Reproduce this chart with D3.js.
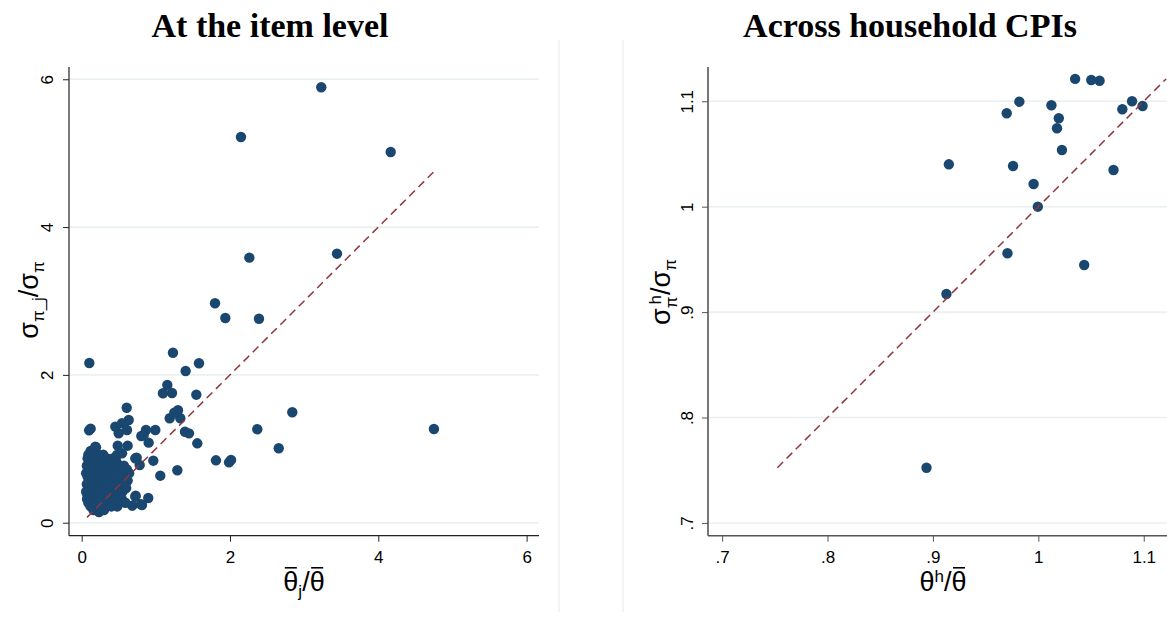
<!DOCTYPE html>
<html><head><meta charset="utf-8">
<script src="https://cdn.jsdelivr.net/npm/d3@7"></script>
<style>body{margin:0;background:#fff} svg{display:block}</style>
</head><body>
<svg id="c" width="1167" height="618"></svg>
<script>
// ---------- DATA ----------
const panelTitles = ["At the item level", "Across household CPIs"];

// Left panel: item-level points [theta_j/theta, sigma_pi_j/sigma_pi]
const itemOutliers = [
  [3.231,5.892],[2.148,5.219],[4.167,5.016],[2.261,3.586],[3.443,3.640],[1.798,2.969],[1.937,2.770],[2.391,2.760],
  [0.103,2.161],[1.231,2.300],[1.582,2.157],[1.402,2.053],[1.155,1.863],[1.096,1.751],[1.218,1.755],[1.546,1.732],
  [0.607,1.556],[2.840,1.494],[1.299,1.521],[1.187,1.413],[1.330,1.413],[1.249,1.489],[2.368,1.264],[0.121,1.272],
  [0.100,1.250],[1.393,1.231],[1.447,1.209],[0.993,1.254],[0.867,1.254],[0.804,1.173],[0.903,1.083],[1.559,1.074],
  [2.657,1.007],[4.750,1.268],[0.453,1.300],[0.544,1.345],[0.634,1.390],[0.499,1.210],[0.611,1.254],[0.836,1.187],
  [0.193,1.020],[0.135,0.961],[0.486,1.042],[0.620,1.042],[0.742,0.880],[0.782,0.781],[0.966,0.839],[1.811,0.844],
  [1.987,0.817],[2.014,0.848],[1.060,0.636],[1.290,0.709],[0.728,0.365],[0.898,0.334],[0.682,0.230],[0.800,0.249],
  [0.233,0.145],[0.723,0.871],[0.476,0.916],[0.544,0.939],[0.184,1.028],[0.813,0.240],[0.723,0.352]
];
const itemCluster = [
  [0.12,0.97],[0.18,0.97],
  [0.09,0.92],[0.15,0.92],[0.22,0.92],[0.29,0.92],
  [0.08,0.87],[0.13,0.87],[0.19,0.87],[0.26,0.87],[0.34,0.87],[0.42,0.87],
  [0.10,0.82],[0.16,0.82],[0.22,0.82],[0.30,0.82],[0.38,0.82],[0.47,0.82],
  [0.07,0.77],[0.12,0.77],[0.18,0.77],[0.25,0.77],[0.33,0.77],[0.41,0.77],[0.50,0.77],[0.57,0.77],
  [0.09,0.72],[0.14,0.72],[0.20,0.72],[0.27,0.72],[0.35,0.72],[0.44,0.72],[0.53,0.72],[0.61,0.72],
  [0.06,0.67],[0.11,0.67],[0.17,0.67],[0.23,0.67],[0.30,0.67],[0.38,0.67],[0.47,0.67],[0.56,0.67],[0.64,0.67],
  [0.08,0.62],[0.13,0.62],[0.19,0.62],[0.26,0.62],[0.33,0.62],[0.41,0.62],[0.50,0.62],[0.59,0.62],
  [0.10,0.57],[0.15,0.57],[0.21,0.57],[0.28,0.57],[0.36,0.57],[0.45,0.57],[0.54,0.57],[0.62,0.57],
  [0.07,0.52],[0.12,0.52],[0.18,0.52],[0.24,0.52],[0.31,0.52],[0.39,0.52],[0.48,0.52],[0.57,0.52],
  [0.09,0.47],[0.14,0.47],[0.20,0.47],[0.27,0.47],[0.34,0.47],[0.43,0.47],[0.52,0.47],[0.60,0.47],
  [0.06,0.42],[0.11,0.42],[0.17,0.42],[0.23,0.42],[0.30,0.42],[0.38,0.42],[0.47,0.42],[0.55,0.42],
  [0.08,0.37],[0.13,0.37],[0.19,0.37],[0.26,0.37],[0.33,0.37],[0.41,0.37],[0.50,0.37],
  [0.072,0.32],[0.11,0.32],[0.16,0.32],[0.22,0.32],[0.29,0.32],[0.37,0.32],[0.45,0.32],[0.54,0.32],
  [0.09,0.27],[0.14,0.27],[0.20,0.27],[0.27,0.27],[0.35,0.27],[0.43,0.27],[0.51,0.27],[0.59,0.27],
  [0.12,0.22],[0.18,0.22],[0.25,0.22],[0.32,0.22],[0.40,0.22],[0.48,0.22],
  [0.16,0.17],[0.23,0.17],[0.30,0.17]
];
const itemPoints = itemOutliers.concat(itemCluster);

// Right panel: household CPI points [theta_h/theta, sigma_pi_h/sigma_pi]
const hhX = [1.0349,1.0502,1.0581,0.9820,0.9700,1.0124,1.0194,1.0177,1.0224,1.0797,1.0889,
             1.0989,0.9151,0.9760,0.9955,0.9995,1.0713,0.9707,1.0435,0.9128,0.8939];
const hhY = [1.1212,1.1202,1.1195,1.0996,1.0886,1.0962,1.0839,1.0744,1.0538,1.0924,1.1000,
             1.0955,1.0402,1.0386,1.0215,1.0000,1.0348,0.9558,0.9447,0.9172,0.7524];

const leftTicks = [0, 2, 4, 6];
const leftTickLabels = ["0", "2", "4", "6"];
const rightTicks = [0.7, 0.8, 0.9, 1, 1.1];
const rightTickLabels = [".7", ".8", ".9", "1", "1.1"];
const leftDiag = [0.072, 4.75];
const rightDiag = [0.7524, 1.1212];

// ---------- DRAW ----------
const svg = d3.select("#c");
const MARK = "#1a476f", DIAG = "#90353b", GRID = "#eaf0f2";
const sans = "'Liberation Sans', Arial, sans-serif";

// faint panel borders
svg.append("line").attr("x1",559).attr("x2",559).attr("y1",40).attr("y2",612).attr("stroke","#f1f1f1").attr("stroke-width",1.5);
svg.append("line").attr("x1",623).attr("x2",623).attr("y1",40).attr("y2",612).attr("stroke","#f1f1f1").attr("stroke-width",1.5);

function panel(cfg) {
  const g = svg.append("g");
  const x = d3.scaleLinear().domain(cfg.xd).range(cfg.xr);
  const y = d3.scaleLinear().domain(cfg.yd).range(cfg.yr);
  const gridRight = Math.min(cfg.xr[1], 1167);
  g.selectAll(".gl").data(cfg.ticks).enter().append("line")
    .attr("x1", cfg.xr[0]).attr("x2", gridRight)
    .attr("y1", d => y(d)).attr("y2", d => y(d))
    .attr("stroke", GRID).attr("stroke-width", 1.6);
  const ya = g.append("g").attr("transform", `translate(${cfg.xr[0]},0)`)
    .call(d3.axisLeft(y).tickValues(cfg.ticks).tickSize(6).tickFormat((d,i) => cfg.labels[i]));
  ya.select(".domain").attr("stroke", cfg.axisColor).attr("stroke-width", cfg.axisW)
    .attr("d", `M0,${cfg.yr[0]}V${cfg.yr[1]}`);
  ya.selectAll(".tick line").attr("stroke", cfg.axisColor);
  ya.selectAll(".tick text").attr("font-family", sans).attr("font-size", 17).attr("fill", "#000")
    .attr("x", null).attr("dy", null).attr("text-anchor", "middle")
    .attr("transform", `translate(${cfg.yLabelX},0) rotate(-90)`);
  const xa = g.append("g").attr("transform", `translate(0,${cfg.yr[0]})`)
    .call(d3.axisBottom(x).tickValues(cfg.ticks).tickSize(6).tickFormat((d,i) => cfg.labels[i]));
  xa.select(".domain").attr("stroke", cfg.axisColor).attr("stroke-width", cfg.axisW)
    .attr("d", `M${cfg.xr[0]},0H${gridRight}`);
  xa.selectAll(".tick line").attr("stroke", cfg.axisColor);
  xa.selectAll(".tick text").attr("font-family", sans).attr("font-size", 17).attr("fill", "#000")
    .attr("y", 27.5).attr("dy", null);
  g.selectAll(".pt").data(cfg.points).enter().append("circle")
    .attr("cx", d => x(d[0])).attr("cy", d => y(d[1])).attr("r", 5.2).attr("fill", MARK);
  g.append("line")
    .attr("x1", x(cfg.diag[0])).attr("y1", y(cfg.diag[0]))
    .attr("x2", x(cfg.diag[1])).attr("y2", y(cfg.diag[1]))
    .attr("stroke", DIAG).attr("stroke-width", 1.5).attr("stroke-dasharray", "8,5");
  svg.append("text").attr("x", cfg.titleX).attr("y", 37).attr("text-anchor", "middle")
    .attr("font-family", "'Liberation Serif', 'Times New Roman', serif").attr("font-weight", "bold")
    .attr("font-size", 34).attr("fill", "#000").text(cfg.title);
  return {x, y};
}

panel({
  xd: [-0.171, 6.167], xr: [69, 539], yd: [-0.176, 6.166], yr: [535.7, 67],
  ticks: leftTicks, labels: leftTickLabels, points: itemPoints, diag: leftDiag,
  axisColor: "#222", axisW: 1.2, yLabelX: -16, title: panelTitles[0], titleX: 270
});
panel({
  xd: [0.6866, 1.1325], xr: [708, 1178], yd: [0.6879, 1.1325], yr: [535.7, 67],
  ticks: rightTicks, labels: rightTickLabels, points: hhX.map((v,i) => [v, hhY[i]]), diag: rightDiag,
  axisColor: "#555", axisW: 1.6, yLabelX: -15, title: panelTitles[1], titleX: 910
});

// axis titles (text with tspans; bars drawn over flagged theta characters)
const big = 27, sm = 17;
function axisTitle(transform, x, y, parts) {
  const g = svg.append("g").attr("transform", transform);
  const t = g.append("text").attr("x", x).attr("y", y).attr("text-anchor", "middle")
    .attr("font-family", sans).attr("fill", "#000");
  const barIdx = [];
  let idx = 0;
  parts.forEach(p => {
    const s = t.append("tspan").text(p.t).attr("font-size", p.s);
    if (p.dy) s.attr("dy", p.dy);
    if (p.dx) s.attr("dx", p.dx);
    if (p.bar) p.bar.forEach(b => barIdx.push({i: idx + b, s: p.s}));
    idx += p.t.length;
  });
  const node = t.node();
  barIdx.forEach(b => {
    const e = node.getExtentOfChar(b.i);
    const sp = node.getStartPositionOfChar(b.i);
    const yy = sp.y - 0.86 * b.s;
    g.append("line").attr("x1", e.x + 1.5).attr("x2", e.x + e.width - 1.5)
      .attr("y1", yy).attr("y2", yy).attr("stroke", "#000").attr("stroke-width", 1.6);
  });
}
axisTitle(null, 304, 591, [{t:"θ", s:big, bar:[0]}, {t:"j", s:sm, dy:6}, {t:"/θ", s:big, dy:-6, bar:[1]}]);
axisTitle(null, 943, 591, [{t:"θ", s:big}, {t:"h", s:sm, dy:-9}, {t:"/θ", s:big, dy:9, bar:[1]}]);
axisTitle("translate(38,300) rotate(-90)", 0, 0,
  [{t:"σ", s:big}, {t:"π_j", s:sm, dy:6}, {t:"/σ", s:big, dy:-6}, {t:"π", s:sm, dy:6}]);
axisTitle("translate(670,292) rotate(-90)", 0, 0,
  [{t:"σ", s:big}, {t:"π", s:sm, dy:7}, {t:"h", s:sm, dy:-16, dx:-8}, {t:"/σ", s:big, dy:9}, {t:"π", s:sm, dy:6}]);
</script>
</body></html>
